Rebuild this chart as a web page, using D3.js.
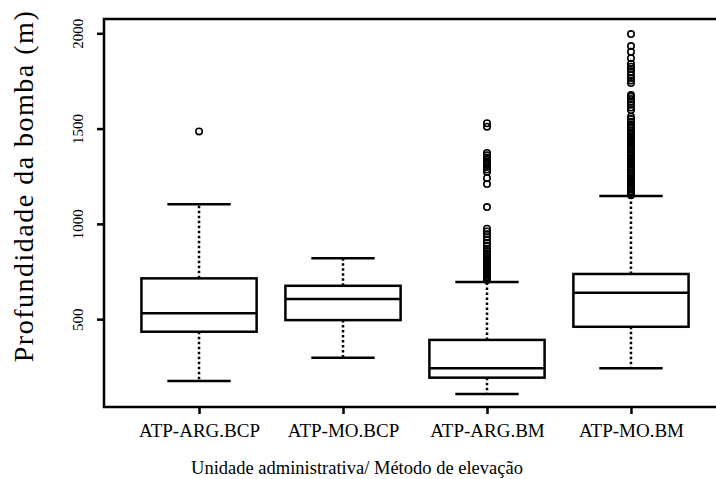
<!DOCTYPE html>
<meta charset="utf-8">
<title>Profundidade da bomba por unidade / método</title>
<style>
html, body { margin: 0; padding: 0; background: #fff; overflow: hidden; }
svg.chart { display: block; overflow: hidden; }
svg text { font-family: "Liberation Serif", "Times New Roman", serif; fill: #000; }
.axis path { display: none; }
.axis line { stroke: #000; stroke-width: 2.5; }
.box rect, .box .median, .box .staple { fill: none; stroke: #000; stroke-width: 2.5; }
.box .whisker { stroke: #000; stroke-width: 2.5; stroke-dasharray: 2.5,2.5; }
.box circle { fill: none; stroke: #000; stroke-width: 1.6; }
</style>
<svg class="chart"></svg>
<script src="https://cdn.jsdelivr.net/npm/d3@7"></script>
<script>

var categories = ["ATP-ARG.BCP", "ATP-MO.BCP", "ATP-ARG.BM", "ATP-MO.BM"];

// five-number summaries (m)
var lowerWhisker = [175, 298, 107, 242];
var lowerQuartile = [434, 495, 193, 460];
var medians = [531, 606, 242, 639];
var upperQuartile = [714, 675, 391, 737];
var upperWhisker = [1103, 819, 695, 1146];

var outliersArgBcp = [1485];
var outliersMoBcp = [];
var outliersArgBm = [705, 712, 720, 728, 735, 742, 750, 758, 765, 772, 780, 790,
  800, 810, 820, 832, 845, 858, 870, 885, 900, 915, 930, 945, 960, 975, 1088,
  1209, 1240, 1272, 1285, 1298, 1310, 1322, 1335, 1348, 1360, 1372, 1510, 1528];
var outliersMoBm = [1150, 1160, 1170, 1180, 1190, 1200, 1210, 1220, 1230, 1240,
  1250, 1260, 1270, 1280, 1290, 1300, 1310, 1320, 1330, 1340, 1350, 1360, 1370,
  1380, 1390, 1400, 1410, 1420, 1430, 1440, 1450, 1460, 1470, 1480, 1490, 1500,
  1510, 1520, 1536, 1550, 1562, 1597, 1610, 1625, 1641, 1655, 1667, 1676, 1739,
  1752, 1765, 1780, 1798, 1812, 1825, 1840, 1869, 1903, 1933, 1996];

var yTicks = [500, 1000, 1500, 2000];

var width = 716, height = 479;
// the plotting region runs past the right edge of the picture
var plot = {left: 104, top: 19, right: 726, bottom: 407};

var svg = d3.select(".chart")
    .attr("width", width)
    .attr("height", height);

svg.append("rect")
    .attr("width", width)
    .attr("height", height)
    .attr("fill", "#fff");

var x = d3.scaleLinear()
    .domain([0.34, categories.length + 0.66])
    .range([plot.left, plot.right]);

var y = d3.scaleLinear()
    .domain([39, 2075])
    .range([plot.bottom, plot.top]);

var step = x(2) - x(1);
var halfBox = 0.4 * step,
    halfStaple = 0.22 * step;

var outliers = [outliersArgBcp, outliersMoBcp, outliersArgBm, outliersMoBm];

var stats = categories.map(function(c, i) {
  return {
    name: c,
    pos: i + 1,
    lo: lowerWhisker[i],
    q1: lowerQuartile[i],
    med: medians[i],
    q3: upperQuartile[i],
    hi: upperWhisker[i],
    out: outliers[i]
  };
});

var boxes = svg.selectAll(".box")
    .data(stats)
    .enter().append("g")
    .attr("class", "box");

// dotted whiskers
boxes.append("line")
    .attr("class", "whisker")
    .attr("x1", function(d) { return x(d.pos); })
    .attr("x2", function(d) { return x(d.pos); })
    .attr("y1", function(d) { return y(d.q3); })
    .attr("y2", function(d) { return y(d.hi); });

boxes.append("line")
    .attr("class", "whisker")
    .attr("x1", function(d) { return x(d.pos); })
    .attr("x2", function(d) { return x(d.pos); })
    .attr("y1", function(d) { return y(d.q1); })
    .attr("y2", function(d) { return y(d.lo); });

// staples
["hi", "lo"].forEach(function(k) {
  boxes.append("line")
      .attr("class", "staple")
      .attr("x1", function(d) { return x(d.pos) - halfStaple; })
      .attr("x2", function(d) { return x(d.pos) + halfStaple; })
      .attr("y1", function(d) { return y(d[k]); })
      .attr("y2", function(d) { return y(d[k]); });
});

boxes.append("rect")
    .attr("x", function(d) { return x(d.pos) - halfBox; })
    .attr("width", 2 * halfBox)
    .attr("y", function(d) { return y(d.q3); })
    .attr("height", function(d) { return y(d.q1) - y(d.q3); });

boxes.append("line")
    .attr("class", "median")
    .attr("x1", function(d) { return x(d.pos) - halfBox; })
    .attr("x2", function(d) { return x(d.pos) + halfBox; })
    .attr("y1", function(d) { return y(d.med); })
    .attr("y2", function(d) { return y(d.med); });

boxes.each(function(d) {
  d3.select(this).selectAll("circle")
      .data(d.out)
      .enter().append("circle")
      .attr("cx", x(d.pos))
      .attr("cy", function(v) { return y(v); })
      .attr("r", 3.2);
});

// frame: left, top and bottom only; the right side lies outside the picture
svg.append("path")
    .attr("d", "M" + (width + 20) + "," + plot.top +
               "H" + plot.left + "V" + plot.bottom + "H" + (width + 20))
    .attr("fill", "none")
    .attr("stroke", "#000")
    .attr("stroke-width", 2.5);

var yAxis = svg.append("g")
    .attr("class", "axis")
    .attr("transform", "translate(" + plot.left + ",0)")
    .call(d3.axisLeft(y).tickValues(yTicks).tickFormat(d3.format("d")).tickSize(7));

yAxis.selectAll("text")
    .attr("x", 0)
    .attr("y", 0)
    .attr("dy", 0)
    .attr("transform", "translate(-21,0) rotate(-90)")
    .style("text-anchor", "middle")
    .style("font-size", "15px");

var xAxis = svg.append("g")
    .attr("class", "axis")
    .attr("transform", "translate(0," + plot.bottom + ")")
    .call(d3.axisBottom(x)
      .tickValues(d3.range(1, categories.length + 1))
      .tickFormat(function(i) { return categories[i - 1]; })
      .tickSize(7));

xAxis.selectAll("text")
    .attr("y", 30)
    .attr("dy", 0)
    .style("font-size", "19px");

// axis titles
svg.append("text")
    .attr("transform", "translate(33,186) rotate(-90)")
    .style("text-anchor", "middle")
    .style("font-size", "28px")
    .style("letter-spacing", "1.5px")
    .text("Profundidade da bomba (m)");

svg.append("text")
    .attr("x", 357)
    .attr("y", 474)
    .style("text-anchor", "middle")
    .style("font-size", "18.5px")
    .text("Unidade administrativa/ Método de elevação");

</script>
